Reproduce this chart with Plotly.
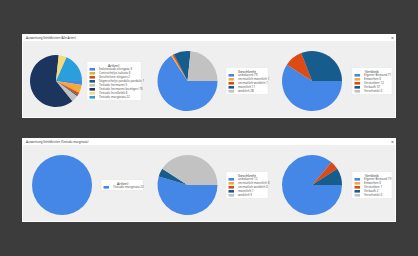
import plotly.graph_objects as go

# ---------------- data ----------------
panel_titles = ["Auswertung Schildkröten (Alle Arten)", "Auswertung Schildkröten (Testudo marginata)"]

arten_all_names = ["Indotestudo elongata", "Centrochelys sulcata", "Geochelone elegans",
                   "Stigmochelys pardalis pardalis", "Testudo hermanni", "Testudo hermanni boettgeri",
                   "Testudo horsfieldii", "Testudo marginata"]
arten_all_values = [3, 6, 2, 1, 5, 75, 6, 22]

geschlecht_names = ["unbekannt", "vermutlich männlich", "vermutlich weiblich", "männlich", "weiblich"]
geschlecht_all_values = [79, 1, 1, 11, 28]

verbleib_names = ["Eigener Bestand", "Entwichen", "Verstorben", "Verkauft", "Verschenkt"]
verbleib_all_values = [71, 0, 12, 37, 0]

arten_marg_names = ["Testudo marginata"]
arten_marg_values = [22]
geschlecht_marg_values = [12, 0, 0, 1, 9]
verbleib_marg_values = [19, 0, 1, 2, 0]

chart_titles = ["Art(en)", "Geschlecht", "Verbleib"]

arten_colors = ["#4487E6", "#F4A93A", "#DD4A14", "#165C8C", "#C2C2C2", "#1B355F", "#F5DB79", "#2B9EDC"]
std_colors = ["#4487E6", "#F4A93A", "#DD4A14", "#165C8C", "#C2C2C2"]

# ---------------- layout helpers ----------------
W, H = 418, 256
def px(x): return x / W
def py(y): return 1 - y / H

FONT = "Noto Sans"
panel_tops = [34, 138]
panel_h = 84
panel_left, panel_right = 22, 396
pie_cy_off = 47
# (pie center x, radius, legend left x, legend width) per chart per panel
chart_geom = [
    [(56, 26, 87, 54), (187.5, 30, 226, 42), (312, 30, 352, 40)],
    [(62, 30, 101, 42), (187.5, 30, 226, 42), (312, 30, 352, 40)],
]
panel_data = [
    [(arten_all_names, arten_all_values, arten_colors),
     (geschlecht_names, geschlecht_all_values, std_colors),
     (verbleib_names, verbleib_all_values, std_colors)],
    [(arten_marg_names, arten_marg_values, std_colors),
     (geschlecht_names, geschlecht_marg_values, std_colors),
     (verbleib_names, verbleib_marg_values, std_colors)],
]

fig = go.Figure()
shapes = []
annotations = []

for p, top in enumerate(panel_tops):
    bottom = top + panel_h
    # window
    shapes.append(dict(type="rect", xref="paper", yref="paper",
                       x0=px(panel_left), x1=px(panel_right), y0=py(bottom), y1=py(top),
                       fillcolor="#FFFFFF", line=dict(width=0), layer="below"))
    shapes.append(dict(type="rect", xref="paper", yref="paper",
                       x0=px(panel_left + 1), x1=px(panel_right - 1), y0=py(bottom - 1), y1=py(top + 7),
                       fillcolor="#EFEFEF", line=dict(width=0), layer="below"))
    annotations.append(dict(text=panel_titles[p], x=px(panel_left + 1.5), y=py(top + 3.5),
                            xref="paper", yref="paper", xanchor="left", yanchor="middle",
                            showarrow=False, font=dict(family=FONT, size=2.9, color="#333333")))
    annotations.append(dict(text="×", x=px(panel_right - 4), y=py(top + 3.5),
                            xref="paper", yref="paper", xanchor="center", yanchor="middle",
                            showarrow=False, font=dict(family=FONT, size=5, color="#555555")))
    cy = top + pie_cy_off
    for c in range(3):
        cx, r, lx, lw = chart_geom[p][c]
        names, values, colors = panel_data[p][c]
        labels = [f"{n} {v}" for n, v in zip(names, values)]
        fig.add_trace(go.Pie(
            labels=labels, values=values, sort=False, direction="clockwise", rotation=90,
            marker=dict(colors=colors[:len(values)], line=dict(width=0)),
            textinfo="none", hoverinfo="label+percent", showlegend=False,
            domain=dict(x=[px(cx - r), px(cx + r)], y=[py(cy + r), py(cy - r)])))
        # legend box
        n = len(labels)
        lh = 7 + 4 * n
        ly0 = cy - lh / 2
        shapes.append(dict(type="rect", xref="paper", yref="paper",
                           x0=px(lx), x1=px(lx + lw), y0=py(ly0 + lh), y1=py(ly0),
                           fillcolor="#FFFFFF", line=dict(width=0.4, color="#DDDDDD")))
        annotations.append(dict(text=chart_titles[c], x=px(lx + lw / 2), y=py(ly0 + 3.5),
                                xref="paper", yref="paper", xanchor="center", yanchor="middle",
                                showarrow=False, font=dict(family=FONT, size=3.5, color="#333333")))
        for i, lab in enumerate(labels):
            iy = ly0 + 7.8 + 4 * i
            shapes.append(dict(type="rect", xref="paper", yref="paper",
                               x0=px(lx + 2.5), x1=px(lx + 8), y0=py(iy + 1.3), y1=py(iy - 1.3),
                               fillcolor=colors[i], line=dict(width=0)))
            annotations.append(dict(text=lab, x=px(lx + 9.5), y=py(iy),
                                    xref="paper", yref="paper", xanchor="left", yanchor="middle",
                                    showarrow=False,
                                    font=dict(family=FONT, size=3.0, color="#555555")))

fig.update_layout(
    width=W, height=H, margin=dict(l=0, r=0, t=0, b=0),
    paper_bgcolor="#3C3C3C", plot_bgcolor="#3C3C3C",
    shapes=shapes, annotations=annotations, showlegend=False,
)
fig.write_html("out.html")
